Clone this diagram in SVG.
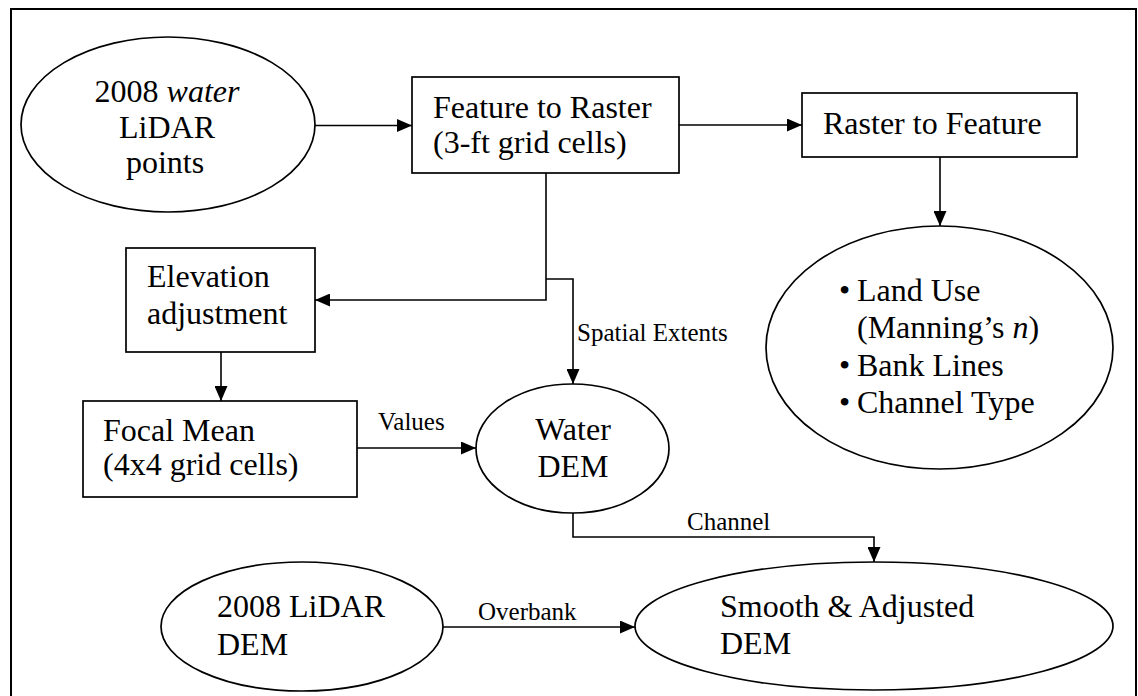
<svg xmlns="http://www.w3.org/2000/svg" width="1138" height="696" viewBox="0 0 1138 696">
<defs>
<style>
.shape{fill:#fff;stroke:#000;stroke-width:1.7}
.t{font-family:"Liberation Serif","Times New Roman",serif;font-size:32px;fill:#000}
.lbl{font-family:"Liberation Serif","Times New Roman",serif;font-size:25px;fill:#000}
.c{fill:none;stroke:#000;stroke-width:1.6}
</style>
<marker id="ah" viewBox="0 0 15 13" refX="15" refY="6.5" markerWidth="15" markerHeight="13" markerUnits="userSpaceOnUse" orient="auto">
<path d="M0,0 L15,6.5 L0,13 Z" fill="#000"/>
</marker>
</defs>
<rect x="0" y="0" width="1138" height="696" fill="#fff"/>
<rect x="11" y="9" width="1125" height="700" fill="none" stroke="#000" stroke-width="2"/>
<g id="connectors">
<path class="c" d="M315,125.5 H412" marker-end="url(#ah)"/>
<path class="c" d="M679,125 H802" marker-end="url(#ah)"/>
<path class="c" d="M940,157 V226" marker-end="url(#ah)"/>
<path class="c" d="M546,173 V300 H315" marker-end="url(#ah)"/>
<path class="c" d="M546,279 H573 V384" marker-end="url(#ah)"/>
<path class="c" d="M221,352 V401" marker-end="url(#ah)"/>
<path class="c" d="M357,448 H476" marker-end="url(#ah)"/>
<path class="c" d="M573,513 V537 H874 V562" marker-end="url(#ah)"/>
<path class="c" d="M443,627 H635" marker-end="url(#ah)"/>
<text class="lbl" x="577" y="341">Spatial Extents</text>
<text class="lbl" x="378" y="430">Values</text>
<text class="lbl" x="687" y="530">Channel</text>
<text class="lbl" x="478" y="620">Overbank</text>
</g>
<g id="lidar-points">
<ellipse class="shape" cx="168" cy="124.5" rx="147" ry="87.5"/>
<text class="t" x="167" y="102" text-anchor="middle">2008 <tspan font-style="italic">water</tspan></text>
<text class="t" x="167" y="138" text-anchor="middle">LiDAR</text>
<text class="t" x="165" y="173" text-anchor="middle">points</text>
</g>
<g id="feature-to-raster">
<rect class="shape" x="412" y="77" width="267" height="96"/>
<text class="t" x="433" y="118">Feature to Raster</text>
<text class="t" x="433" y="153">(3-ft grid cells)</text>
</g>
<g id="raster-to-feature">
<rect class="shape" x="802" y="93" width="275" height="64"/>
<text class="t" x="823" y="134">Raster to Feature</text>
</g>
<g id="land-use">
<ellipse class="shape" cx="939.5" cy="347.5" rx="173.5" ry="121.5"/>
<text class="t" x="839" y="301">•</text>
<text class="t" x="857" y="301">Land Use</text>
<text class="t" x="857" y="338">(Manning’s <tspan font-style="italic">n</tspan>)</text>
<text class="t" x="839" y="376">•</text>
<text class="t" x="857" y="376">Bank Lines</text>
<text class="t" x="839" y="413">•</text>
<text class="t" x="857" y="413">Channel Type</text>
</g>
<g id="elevation-adjustment">
<rect class="shape" x="126" y="248" width="189" height="104"/>
<text class="t" x="147" y="287">Elevation</text>
<text class="t" x="147" y="324">adjustment</text>
</g>
<g id="focal-mean">
<rect class="shape" x="83" y="401" width="274" height="96"/>
<text class="t" x="103" y="441">Focal Mean</text>
<text class="t" x="103" y="475">(4x4 grid cells)</text>
</g>
<g id="water-dem">
<ellipse class="shape" cx="572.5" cy="448.5" rx="96.5" ry="64.5"/>
<text class="t" x="573" y="440" text-anchor="middle">Water</text>
<text class="t" x="573" y="477" text-anchor="middle">DEM</text>
</g>
<g id="lidar-dem">
<ellipse class="shape" cx="302" cy="626.5" rx="141" ry="64.5"/>
<text class="t" x="217" y="617">2008 LiDAR</text>
<text class="t" x="217" y="655">DEM</text>
</g>
<g id="smooth-dem">
<ellipse class="shape" cx="874" cy="626" rx="239" ry="64"/>
<text class="t" x="720" y="617">Smooth &amp; Adjusted</text>
<text class="t" x="720" y="654">DEM</text>
</g>
</svg>
